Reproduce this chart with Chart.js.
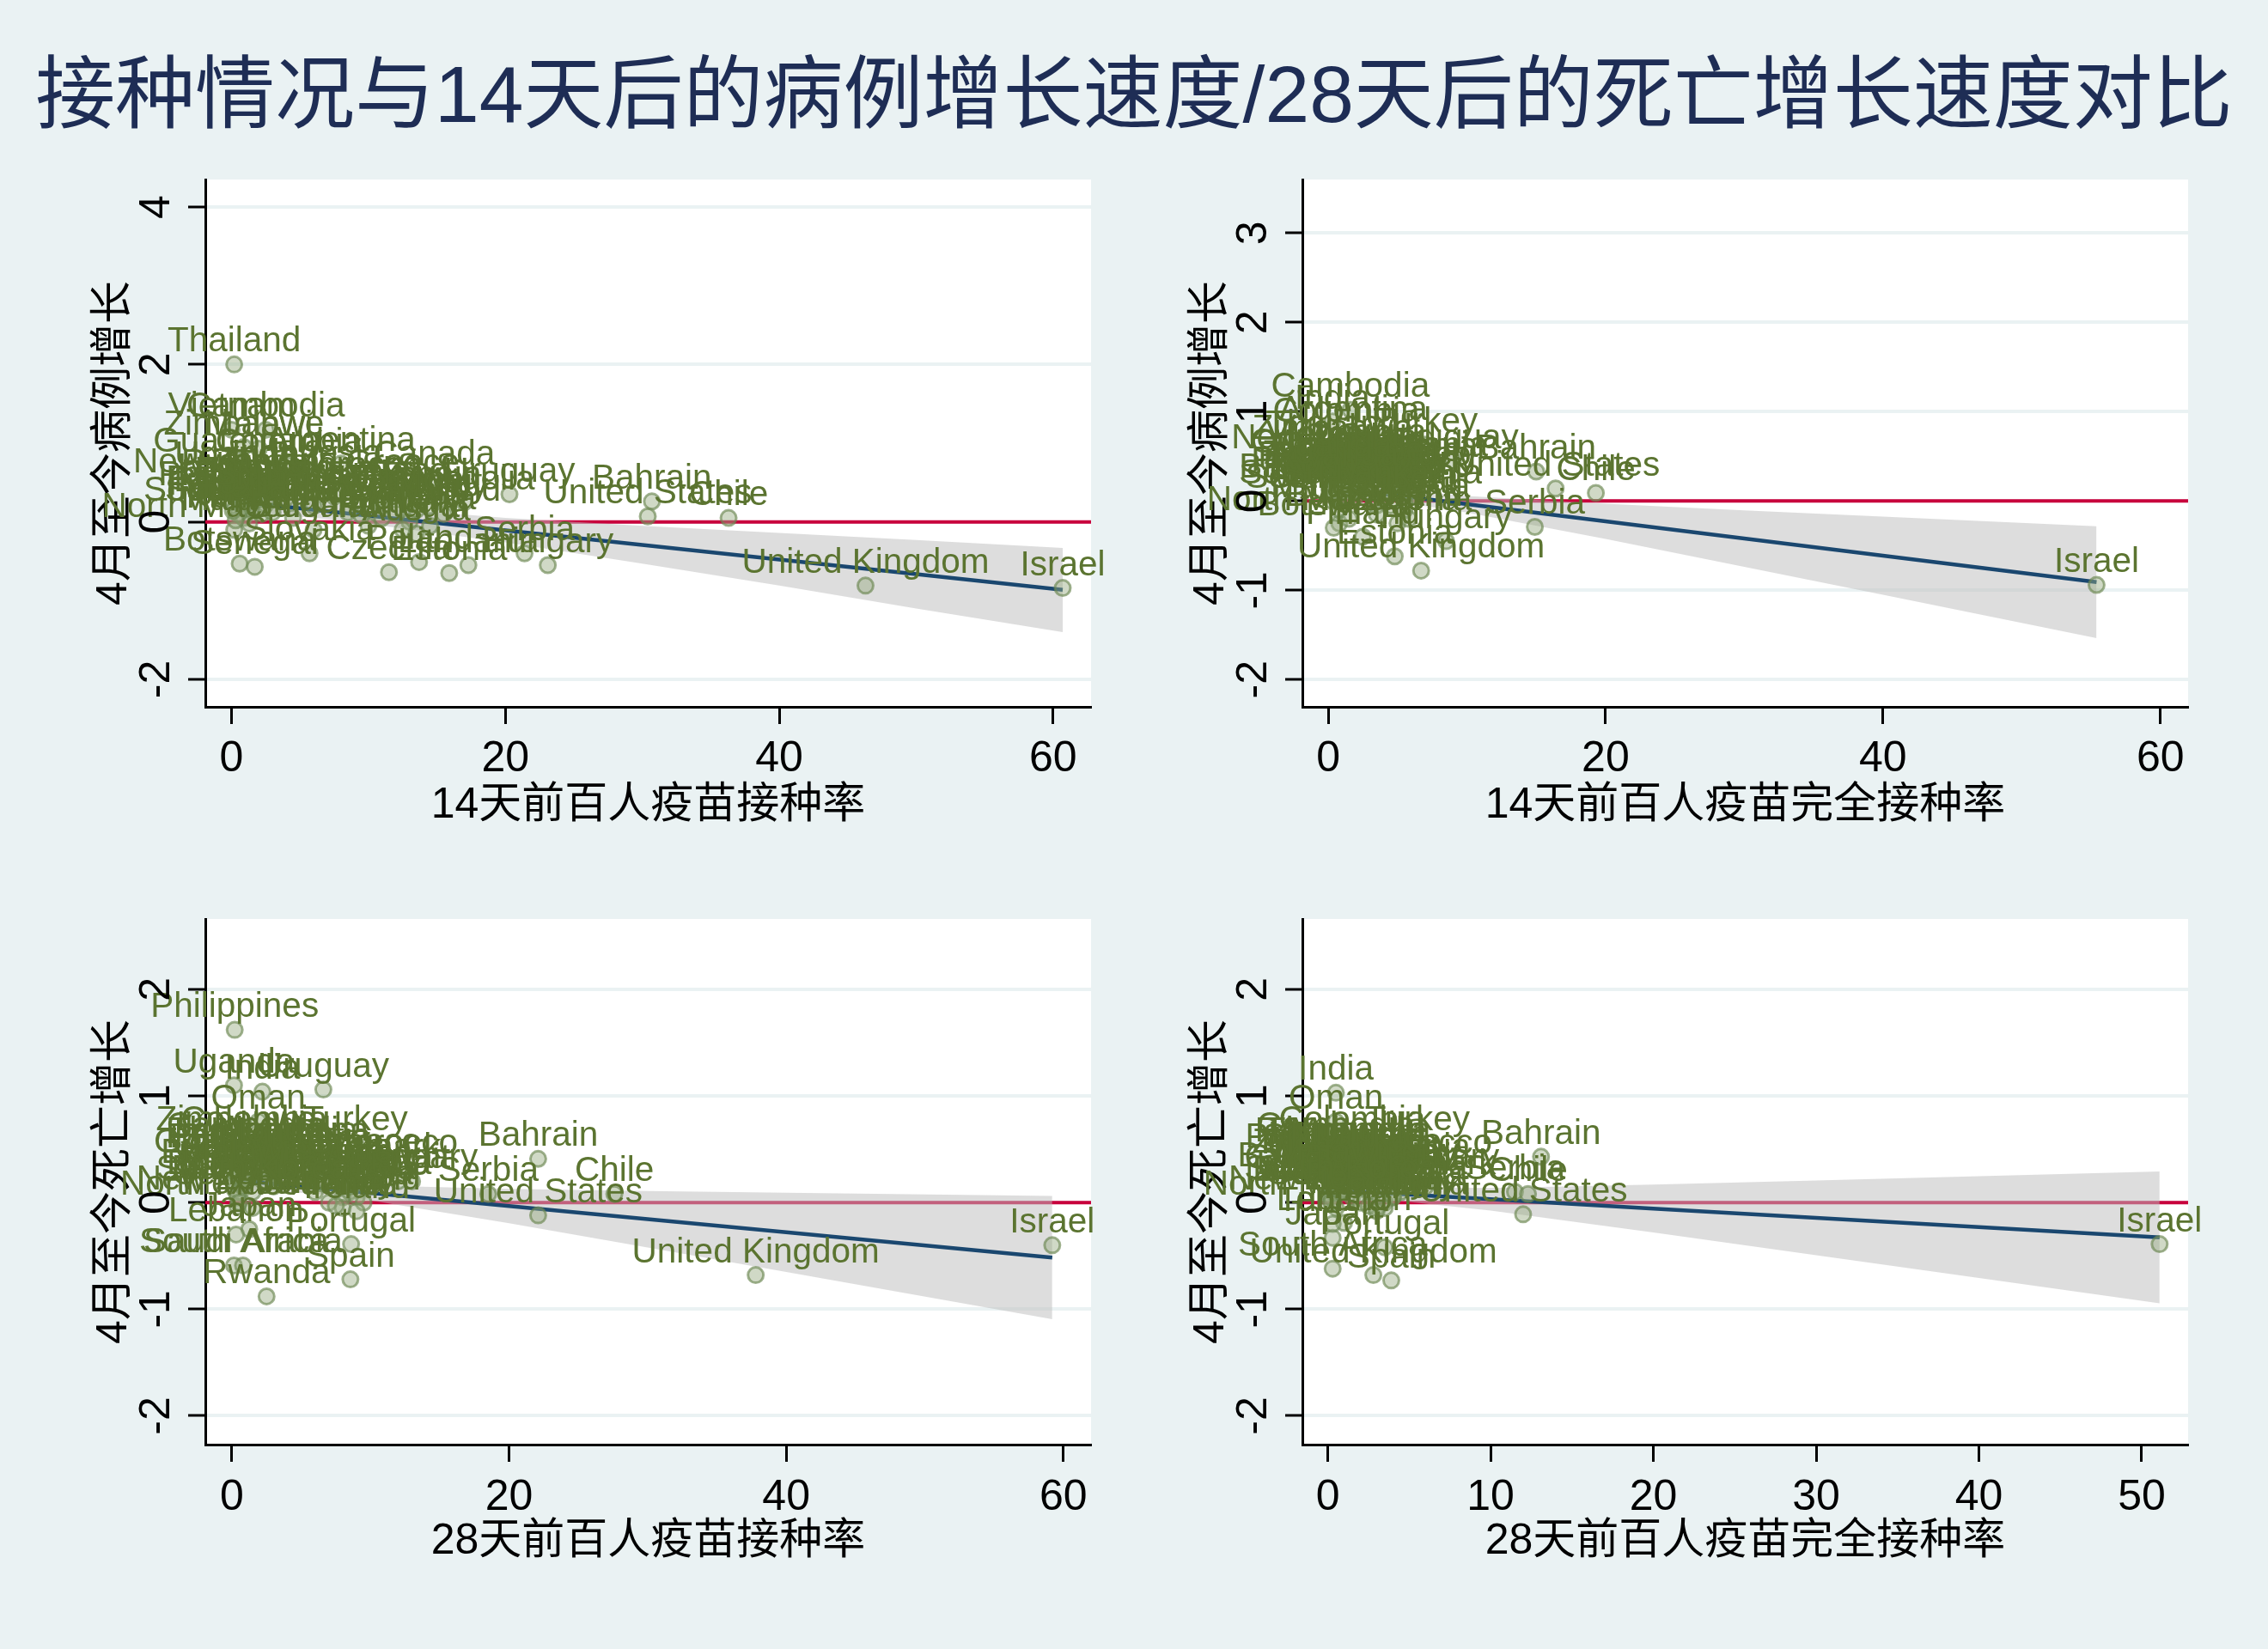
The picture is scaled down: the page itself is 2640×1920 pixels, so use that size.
<!DOCTYPE html>
<html lang="zh">
<head>
<meta charset="UTF-8">
<title>接种情况与病例/死亡增长速度对比</title>
<script src="https://cdn.jsdelivr.net/npm/chart.js@4"></script>
<style>
  body { margin: 0; width: 2640px; height: 1920px; background: #eaf2f3; position: relative; overflow: hidden; }
  #title {
    position: absolute; left: 0; top: 50px; width: 2640px; height: 120px; line-height: 120px;
    text-align: center; font-size: 93px; color: #1e2d55;
    font-family: "Liberation Sans", "Noto Sans CJK SC", sans-serif;
  }
  canvas { position: absolute; }
</style>
</head>
<body>
<div id="title">接种情况与14天后的病例增长速度/28天后的死亡增长速度对比</div>
<canvas id="tl" width="1320" height="830" style="left:0;top:170px"></canvas>
<canvas id="tr" width="1320" height="830" style="left:1320px;top:170px"></canvas>
<canvas id="bl" width="1320" height="880" style="left:0;top:1000px"></canvas>
<canvas id="br" width="1320" height="880" style="left:1320px;top:1000px"></canvas>
<script>
// ---- tick labels ----
const xTicks60 = [0, 20, 40, 60];
const xTicks50 = [0, 10, 20, 30, 40, 50];
const yTicksCase14 = [-2, 0, 2, 4];
const yTicksCaseFull = [-2, -1, 0, 1, 2, 3];
const yTicksDeath = [-2, -1, 0, 1, 2];

// ---- panel 1: 14天前百人疫苗接种率 vs 病例增长 ----
const p1Names = ["Thailand","Vietnam","Cambodia","Zimbabwe","Malawi","Guatemala","Colombia","Argentina","Indonesia","Canada",
  "New Zealand","Uruguay","Bahrain","United States","Chile","North Macedonia","Botswana","Senegal","Czechia","Estonia",
  "Serbia","Hungary","United Kingdom","Israel","Poland","Lithuania","Slovakia","Lebanon","Morocco","Mexico",
  "Peru","Philippines","India","Pakistan","Nepal","Bangladesh","Japan","South Korea","Turkey","Brazil",
  "Ecuador","Bolivia","Paraguay","Costa Rica","Panama","Malaysia","South Africa","Kenya","Nigeria","Egypt",
  "Tunisia","Oman","Kuwait","Latvia","Romania","Slovenia","Croatia","Bulgaria","Denmark","Finland",
  "Italy","Germany","France","Spain","Portugal","Austria","Sweden","Norway","Ireland","Greece",
  "Sri Lanka","Mongolia","Rwanda","Uganda"];
const p1X = [0.2,0.0,2.5,0.9,2.0,0.5,4.2,8.0,5.5,14.8,
  0.3,20.3,30.7,30.4,36.3,0.2,0.6,1.7,11.5,15.9,
  21.4,23.1,46.3,60.7,13.7,17.3,5.7,1.0,9.0,3.5,
  2.0,0.8,1.2,0.1,1.0,2.5,0.9,2.2,11.0,7.5,
  1.4,3.0,0.8,6.0,4.5,1.3,0.5,0.3,0.1,0.6,
  1.5,3.0,14.5,8.5,11.0,13.0,10.0,6.0,12.0,15.5,
  14.5,13.5,13.0,15.0,12.5,13.5,11.0,9.5,12.0,12.5,
  4.0,17.0,1.0,0.3];
const p1Y = [2.00,1.17,1.17,0.95,0.93,0.73,0.72,0.74,0.57,0.56,
  0.47,0.35,0.26,0.07,0.05,-0.10,-0.53,-0.57,-0.64,-0.65,
  -0.40,-0.55,-0.81,-0.84,-0.51,-0.55,-0.40,0.40,0.42,0.38,
  0.35,0.30,0.28,0.25,0.20,0.22,0.05,0.10,0.30,0.32,
  0.15,0.12,0.18,0.20,0.05,-0.02,0.10,0.02,0.14,0.28,
  0.36,0.45,0.20,0.12,0.05,0.00,-0.05,-0.10,0.10,0.10,
  -0.05,0.15,0.25,0.30,-0.10,-0.15,0.20,0.08,0.35,0.45,
  0.30,0.25,0.45,0.55];
const p1FitX = [0, 8, 20, 30, 40, 50, 60.7];
const p1Fit = [0.265, 0.116, -0.107, -0.293, -0.479, -0.665, -0.864];
const p1Hi = [0.39, 0.22, 0.05, -0.05, -0.14, -0.23, -0.33];
const p1Lo = [0.14, 0.02, -0.26, -0.53, -0.81, -1.10, -1.40];

// ---- panel 2: 14天前百人疫苗完全接种率 vs 病例增长 ----
const p2Names = ["Thailand","Vietnam","Cambodia","India","Argentina","Colombia","Turkey","Zimbabwe","Malawi","Guatemala",
  "Indonesia","Canada","New Zealand","Uruguay","Bahrain","United States","Chile","North Macedonia","Botswana","Senegal",
  "Czechia","Estonia","Serbia","Hungary","United Kingdom","Israel","Poland","Lithuania","Slovakia","Lebanon",
  "Morocco","Mexico","Peru","Philippines","Pakistan","Nepal","Bangladesh","Japan","South Korea","Brazil",
  "Ecuador","Bolivia","Paraguay","Costa Rica","Panama","Malaysia","South Africa","Kenya","Nigeria","Egypt",
  "Tunisia","Oman","Kuwait","Latvia","Romania","Slovenia","Croatia","Bulgaria","Denmark","Finland",
  "Italy","Germany","France","Spain","Portugal","Austria","Sweden","Norway","Ireland","Greece",
  "Sri Lanka","Mongolia","Rwanda","Uganda"];
const p2X = [0.3,0.1,1.6,0.3,1.8,1.3,7.0,0.3,0.4,0.5,
  2.5,2.0,0.4,9.0,15.0,16.4,19.3,0.8,0.4,0.3,
  5.0,4.8,14.9,8.5,6.7,55.4,5.8,6.0,5.5,0.6,
  5.5,3.0,1.5,0.5,0.1,0.5,0.2,0.8,1.0,3.5,
  0.6,1.2,0.3,2.5,1.5,0.8,0.4,0.1,0.1,0.3,
  0.5,1.0,3.0,3.5,6.5,6.0,3.5,1.5,5.0,2.5,
  6.0,5.5,4.5,5.0,4.5,5.5,4.0,4.5,4.0,5.5,
  2.0,2.0,0.5,0.2];
const p2Y = [0.60,0.48,1.02,0.89,0.76,0.74,0.63,0.55,0.30,0.40,
  0.30,0.30,0.45,0.45,0.33,0.14,0.09,-0.25,-0.30,0.00,
  -0.25,-0.62,-0.29,-0.45,-0.78,-0.94,-0.20,0.05,-0.10,0.10,
  0.25,0.40,0.25,0.20,0.15,0.05,0.12,0.10,0.00,0.35,
  0.35,0.18,0.25,0.15,0.05,-0.10,0.05,0.12,0.20,0.28,
  0.36,0.15,0.10,-0.05,0.36,0.35,-0.15,-0.20,0.18,-0.40,
  0.05,0.20,0.15,0.10,-0.05,0.00,0.10,0.20,0.25,0.30,
  0.05,0.50,0.25,0.35];
const p2FitX = [0, 5, 10, 20, 30, 40, 55.4];
const p2Fit = [0.157, 0.061, -0.036, -0.228, -0.421, -0.613, -0.909];
const p2Hi = [0.249, 0.130, 0.056, -0.030, -0.104, -0.175, -0.282];
const p2Lo = [0.065, -0.008, -0.128, -0.426, -0.738, -1.051, -1.536];

// ---- panel 3: 28天前百人疫苗接种率 vs 死亡增长 ----
const p3Names = ["Philippines","Uganda","India","Uruguay","Oman","Zimbabwe","Colombia","Turkey","Morocco","Bahrain",
  "Serbia","Chile","United States","Japan","Lebanon","Portugal","South Africa","Saudi Arabia","Spain","Rwanda",
  "United Kingdom","Israel","Mexico","Argentina","Pakistan","Guatemala","Peru","Brazil","Indonesia","Bangladesh",
  "Nepal","Ecuador","Bolivia","Paraguay","Costa Rica","Panama","Kenya","Nigeria","Egypt","Kuwait",
  "Malaysia","Canada","Latvia","Lithuania","Estonia","Czechia","Slovakia","Poland","Hungary","Romania",
  "Bulgaria","Croatia","Slovenia","Italy","Germany","France","Austria","Denmark","Finland","Sweden",
  "Norway","Ireland","Greece","Cambodia","Thailand","Vietnam","Senegal","Botswana","North Macedonia","Sri Lanka",
  "Malawi","New Zealand","South Korea","Mongolia"];
const p3X = [0.2,0.15,2.2,6.6,1.9,0.3,1.6,8.9,11.5,22.1,
  18.5,27.6,22.1,1.25,0.3,8.6,0.15,0.8,8.55,2.5,
  37.8,59.2,0.4,4.5,0.3,0.5,2.0,5.5,2.5,1.5,
  0.8,1.0,2.5,0.6,5.0,3.0,0.2,0.1,0.4,12.0,
  0.6,10.0,6.0,8.0,7.0,7.5,6.5,7.0,13.0,6.5,
  3.5,6.0,8.5,9.0,8.5,8.0,8.0,10.0,9.5,8.5,
  7.5,9.0,9.5,1.0,0.2,0.1,0.4,0.8,1.5,1.5,
  0.3,0.5,1.5,4.0];
const p3Y = [1.62,1.10,1.04,1.06,0.76,0.56,0.56,0.56,0.34,0.41,
  0.08,0.08,-0.12,-0.25,-0.30,-0.39,-0.59,-0.59,-0.72,-0.88,
  -0.68,-0.40,-0.04,0.45,0.40,0.35,0.30,0.30,0.28,0.25,
  0.22,0.18,0.20,0.40,0.25,0.15,0.12,0.20,0.30,0.20,
  0.10,0.15,0.10,0.05,0.00,0.12,0.18,0.25,0.20,0.30,
  0.35,0.40,0.10,0.05,0.15,-0.05,0.20,0.30,0.00,0.25,
  -0.03,-0.08,0.35,0.50,0.45,0.30,0.05,0.15,-0.05,0.40,
  0.25,0.00,0.10,0.45];
const p3FitX = [0, 6, 10, 20, 30, 40, 59.2];
const p3Fit = [0.213, 0.139, 0.090, -0.033, -0.156, -0.279, -0.515];
const p3Hi = [0.298, 0.194, 0.160, 0.128, 0.109, 0.093, 0.063];
const p3Lo = [0.128, 0.084, 0.020, -0.194, -0.421, -0.651, -1.093];

// ---- panel 4: 28天前百人疫苗完全接种率 vs 死亡增长 ----
const p4Names = ["India","Oman","Colombia","Turkey","Argentina","Pakistan","Morocco","Bahrain","Serbia","Chile",
  "United States","Japan","Portugal","South Africa","United Kingdom","Spain","Israel","Indonesia","Lebanon","Denmark",
  "Philippines","Uganda","Uruguay","Zimbabwe","Mexico","Guatemala","Peru","Brazil","Bangladesh","Nepal",
  "Ecuador","Bolivia","Paraguay","Costa Rica","Panama","Kenya","Nigeria","Egypt","Tunisia","Rwanda",
  "Kuwait","Malaysia","Canada","Latvia","Lithuania","Estonia","Czechia","Slovakia","Poland","Hungary",
  "Romania","Bulgaria","Croatia","Slovenia","Italy","Germany","France","Austria","Finland","Sweden",
  "Norway","Ireland","Greece","Cambodia","Thailand","Vietnam","Senegal","Botswana","North Macedonia","Sri Lanka",
  "Malawi","New Zealand","South Korea","Mongolia"];
const p4X = [0.5,0.5,1.5,5.5,1.5,0.0,6.0,13.1,11.5,12.3,
  12.0,0.3,3.5,0.3,2.8,3.9,51.1,0.0,1.0,6.0,
  0.1,0.0,4.0,0.3,0.8,0.1,0.8,2.5,0.1,0.2,
  0.5,0.8,0.1,2.0,1.0,0.0,0.0,0.1,0.3,1.5,
  5.0,0.3,1.5,2.5,4.0,3.5,3.5,3.0,3.5,6.5,
  4.5,1.5,2.5,4.5,4.0,3.5,3.0,3.5,2.0,3.0,
  2.5,3.0,3.5,0.5,0.2,0.0,0.2,0.3,0.5,0.5,
  0.1,0.2,0.8,2.0];
const p4Y = [1.03,0.76,0.56,0.56,0.45,0.34,0.34,0.43,0.10,0.08,
  -0.11,-0.33,-0.42,-0.62,-0.68,-0.73,-0.39,0.08,-0.19,0.15,
  0.40,0.30,0.25,0.35,0.15,0.20,0.30,0.28,0.22,0.15,
  0.10,0.25,0.45,0.20,0.12,0.05,0.25,0.30,-0.20,0.20,
  0.20,0.10,0.05,0.10,0.05,0.00,0.15,0.20,0.25,0.20,
  0.30,0.35,0.40,0.10,0.05,-0.05,-0.05,0.20,0.00,0.25,
  -0.03,-0.08,0.35,0.50,0.45,0.30,0.05,0.15,-0.05,0.40,
  0.25,0.00,0.10,0.45];
const p4FitX = [0, 3, 10, 20, 30, 40, 51.1];
const p4Fit = [0.118, 0.092, 0.031, -0.056, -0.143, -0.230, -0.327];
const p4Hi = [0.185, 0.147, 0.136, 0.168, 0.207, 0.247, 0.291];
const p4Lo = [0.051, 0.037, -0.074, -0.280, -0.493, -0.707, -0.945];

const FONT = '"Liberation Sans", "Noto Sans CJK SC", sans-serif';

// white plot region
const plotBg = {
  id: 'plotBg',
  beforeDraw(chart) {
    const a = chart.chartArea, ctx = chart.ctx;
    ctx.save();
    ctx.fillStyle = '#ffffff';
    ctx.fillRect(a.left, a.top, a.right - a.left, a.bottom - a.top);
    ctx.restore();
  }
};

// y tick labels rotated like Stata
const yTickLabels = {
  id: 'yTickLabels',
  afterDraw(chart) {
    const y = chart.scales.y, ctx = chart.ctx;
    ctx.save();
    ctx.font = '50px ' + FONT;
    ctx.fillStyle = '#000';
    ctx.textAlign = 'center';
    ctx.textBaseline = 'middle';
    y.ticks.forEach(t => {
      ctx.save();
      ctx.translate(chart.chartArea.left - 56, y.getPixelForValue(t.value));
      ctx.rotate(-Math.PI / 2);
      ctx.fillText(String(t.value), 0, 0);
      ctx.restore();
    });
    ctx.restore();
  }
};

// country labels above the markers
const pointLabels = {
  id: 'pointLabels',
  afterDatasetsDraw(chart) {
    const ctx = chart.ctx;
    chart.data.datasets.forEach((ds, i) => {
      if (!ds.pointLabels) return;
      const meta = chart.getDatasetMeta(i);
      ctx.save();
      ctx.font = '40.5px ' + FONT;
      ctx.fillStyle = '#5b7430';
      ctx.textAlign = 'center';
      ctx.textBaseline = 'alphabetic';
      meta.data.forEach((el, j) => ctx.fillText(ds.pointLabels[j], el.x, el.y - 15));
      ctx.restore();
    });
  }
};

const xy = (xs, ys) => xs.map((v, i) => ({x: v, y: ys[i]}));

function panel(id, p) {
  new Chart(document.getElementById(id), {
    type: 'scatter',
    data: {
      datasets: [
        { type: 'scatter', data: xy(p.x, p.y), pointLabels: p.names,
          backgroundColor: 'rgba(150,170,128,0.45)', borderColor: 'rgba(108,135,82,0.65)',
          borderWidth: 3, pointRadius: 9, order: 0 },
        { type: 'line', data: xy(p.fitX, p.fit), borderColor: '#1a476f', borderWidth: 4.5,
          pointRadius: 0, fill: false, order: 1 },
        { type: 'line', data: xy(p.fitX, p.hi), borderColor: 'transparent', borderWidth: 1,
          pointRadius: 0, fill: '+1', backgroundColor: 'rgba(188,188,188,0.51)', order: 2 },
        { type: 'line', data: xy(p.fitX, p.lo), borderColor: 'transparent', borderWidth: 1,
          pointRadius: 0, fill: false, order: 2 },
        { type: 'line', data: [{x: p.xMin, y: 0}, {x: p.xMax, y: 0}], borderColor: '#c8003c',
          borderWidth: 4, pointRadius: 0, fill: false, order: 3 }
      ]
    },
    options: {
      responsive: false,
      animation: false,
      devicePixelRatio: 1,
      layout: { padding: { left: 0, top: p.padTop, right: p.padRight, bottom: 0 } },
      plugins: { legend: { display: false }, tooltip: { enabled: false } },
      scales: {
        x: {
          type: 'linear', position: 'bottom', min: p.xMin, max: p.xMax,
          afterBuildTicks: s => { s.ticks = p.xTicks.map(v => ({value: v})); },
          afterFit: s => { s.height = p.xAxisH; },
          grid: { drawOnChartArea: false, drawTicks: true, tickLength: 20, tickColor: '#000', tickWidth: 3 },
          border: { color: '#000', width: 3 },
          ticks: { color: '#000', font: { size: 50, family: FONT }, padding: p.xTickPad, maxRotation: 0, autoSkip: false },
          title: { display: true, text: p.xTitle, color: '#000',
                   font: { size: 50, family: FONT, lineHeight: 1.2 }, padding: { top: 0, bottom: p.xTitlePad } }
        },
        y: {
          type: 'linear', position: 'left', min: p.yMin, max: p.yMax,
          afterBuildTicks: s => { s.ticks = p.yTicks.map(v => ({value: v})); },
          afterFit: s => { s.width = p.yAxisW; },
          grid: { color: '#eaf2f3', lineWidth: 4, tickLength: 20, tickColor: '#000', tickWidth: 3 },
          border: { color: '#000', width: 3 },
          ticks: { display: false },
          title: { display: true, text: p.yTitle, color: '#000',
                   font: { size: 50, family: FONT, lineHeight: 1.2 }, padding: { top: p.yTitlePad, bottom: 0 } }
        }
      }
    },
    plugins: [plotBg, yTickLabels, pointLabels]
  });
}

panel('tl', { names: p1Names, x: p1X, y: p1Y, fitX: p1FitX, fit: p1Fit, hi: p1Hi, lo: p1Lo,
  xMin: -1.91, xMax: 62.77, yMin: -2.35, yMax: 4.35, xTicks: xTicks60, yTicks: yTicksCase14,
  xTitle: '14天前百人疫苗接种率', yTitle: '4月至今病例增长',
  padTop: 39, padRight: 50, yAxisW: 239, xAxisH: 177, xTickPad: 11, xTitlePad: 32, yTitlePad: 103 });

panel('tr', { names: p2Names, x: p2X, y: p2Y, fitX: p2FitX, fit: p2Fit, hi: p2Hi, lo: p2Lo,
  xMin: -1.86, xMax: 62.0, yMin: -2.305, yMax: 3.60, xTicks: xTicks60, yTicks: yTicksCaseFull,
  xTitle: '14天前百人疫苗完全接种率', yTitle: '4月至今病例增长',
  padTop: 39, padRight: 93, yAxisW: 196, xAxisH: 177, xTickPad: 11, xTitlePad: 32, yTitlePad: 60 });

panel('bl', { names: p3Names, x: p3X, y: p3Y, fitX: p3FitX, fit: p3Fit, hi: p3Hi, lo: p3Lo,
  xMin: -1.92, xMax: 62.0, yMin: -2.27, yMax: 2.66, xTicks: xTicks60, yTicks: yTicksDeath,
  xTitle: '28天前百人疫苗接种率', yTitle: '4月至今死亡增长',
  padTop: 70, padRight: 50, yAxisW: 239, xAxisH: 198, xTickPad: 12, xTitlePad: 55, yTitlePad: 103 });

panel('br', { names: p4Names, x: p4X, y: p4Y, fitX: p4FitX, fit: p4Fit, hi: p4Hi, lo: p4Lo,
  xMin: -1.56, xMax: 52.85, yMin: -2.27, yMax: 2.66, xTicks: xTicks50, yTicks: yTicksDeath,
  xTitle: '28天前百人疫苗完全接种率', yTitle: '4月至今死亡增长',
  padTop: 70, padRight: 93, yAxisW: 196, xAxisH: 198, xTickPad: 12, xTitlePad: 55, yTitlePad: 60 });
</script>
</body>
</html>
